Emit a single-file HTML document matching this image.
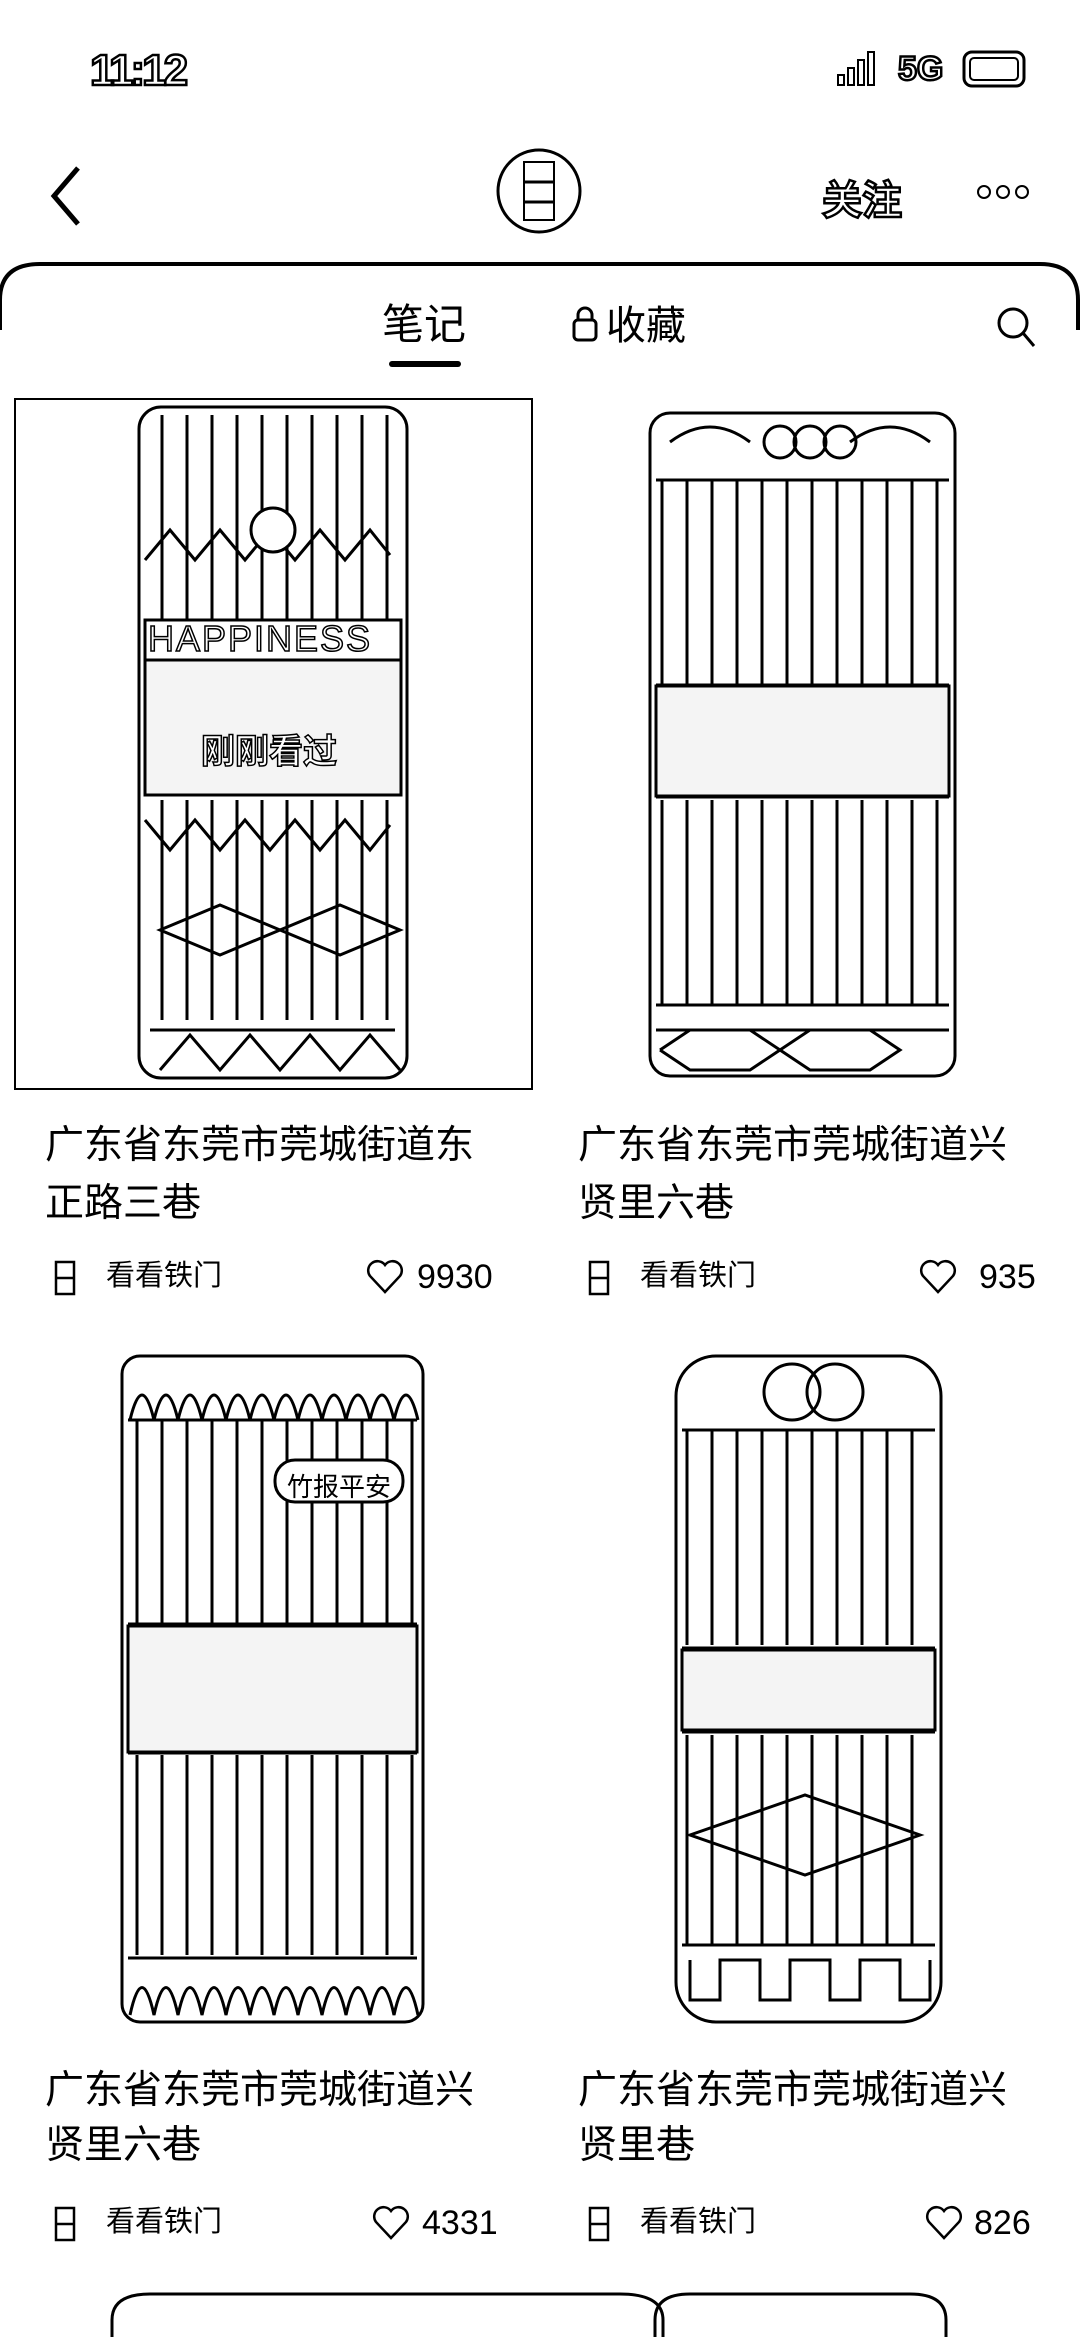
<!DOCTYPE html>
<html><head><meta charset="utf-8">
<style>
*{margin:0;padding:0;box-sizing:border-box}
html,body{width:1080px;height:2337px;background:#fff;overflow:hidden;position:relative;font-family:"Liberation Sans","Noto Sans CJK SC",sans-serif;color:#000}
.a{position:absolute;white-space:nowrap}
.t{font-size:39px;line-height:39px}
.m{font-size:29px;line-height:29px}
.n{font-size:34px;line-height:34px}
</style></head><body>
<div class="a" style="left:90px;top:46px;font-size:44px;font-weight:bold;color:#fff;-webkit-text-stroke:2.5px #000;letter-spacing:-3px">11:12</div>
<div class="a" style="left:898px;top:50px;font-size:34px;font-weight:bold;color:#fff;-webkit-text-stroke:2.5px #000">5G</div>
<svg class="a" style="left:0;top:0" width="1080" height="2337">
<g stroke="#000" stroke-width="2" fill="#fff">
<rect x="838" y="75" width="6" height="10"/><rect x="848" y="68" width="6" height="17"/><rect x="858" y="60" width="6" height="25"/><rect x="868" y="52" width="6" height="33"/>
<rect x="964" y="52" width="60" height="34" rx="8" stroke-width="3"/><rect x="970" y="58" width="48" height="22" rx="4"/>
</g>
<path d="M78 168 L54 196 L78 224" fill="none" stroke="#000" stroke-width="5"/>
<circle cx="539" cy="191" r="41" fill="#fff" stroke="#000" stroke-width="3"/>
<rect x="524" y="162" width="30" height="58" fill="#fff" stroke="#000" stroke-width="2"/>
<line x1="524" y1="182" x2="554" y2="182" stroke="#000" stroke-width="3"/><line x1="524" y1="202" x2="554" y2="202" stroke="#000" stroke-width="3"/>
<g fill="#fff" stroke="#000" stroke-width="2"><circle cx="984" cy="192" r="6"/><circle cx="1003" cy="192" r="6"/><circle cx="1022" cy="192" r="6"/></g>
<path d="M0 330 L0 300 Q0 264 40 264 L1040 264 Q1078 264 1078 300 L1078 330" fill="none" stroke="#000" stroke-width="4"/>
<rect x="389" y="361" width="72" height="6" rx="3" fill="#000"/>
<rect x="574" y="320" width="22" height="20" rx="4" fill="none" stroke="#000" stroke-width="3"/><path d="M578 320 v-5 a7 7 0 0 1 14 0 v5" fill="none" stroke="#000" stroke-width="3"/>
<circle cx="1013" cy="323" r="14" fill="none" stroke="#000" stroke-width="3"/><line x1="1023" y1="333" x2="1034" y2="346" stroke="#000" stroke-width="3"/>
<defs>
<pattern id="bars" width="25" height="10" patternUnits="userSpaceOnUse"><line x1="12" y1="0" x2="12" y2="10" stroke="#000" stroke-width="3"/></pattern>
</defs>
<rect x="15" y="399" width="517" height="690" fill="none" stroke="#000" stroke-width="2"/>
<g fill="none" stroke="#000" stroke-width="3">
<rect x="139" y="407" width="268" height="671" rx="22"/>
<rect x="145" y="415" width="256" height="240" fill="url(#bars)" stroke="none"/>
<rect x="145" y="800" width="256" height="220" fill="url(#bars)" stroke="none"/>
<path d="M145 560 l25 -30 l25 30 l25 -30 l25 30 l25 -30 l25 30 l25 -30 l25 30 l25 -30 l20 25"/>
<path d="M145 820 l25 30 l25 -30 l25 30 l25 -30 l25 30 l25 -30 l25 30 l25 -30 l25 30 l20 -25"/>
<path d="M160 930 l60 -25 l60 25 l60 -25 l60 25 l-60 25 l-60 -25 l-60 25z"/>
<rect x="145" y="620" width="256" height="40" fill="#fff"/>
<rect x="145" y="660" width="256" height="135" fill="#f4f4f4"/>
<path d="M150 1030 L395 1030 M160 1070 l30 -35 l30 35 l30 -35 l30 35 l30 -35 l30 35 l30 -35 l30 35"/>
<circle cx="273" cy="530" r="22" fill="#fff"/>
<rect x="650" y="413" width="305" height="663" rx="20"/>
<rect x="656" y="480" width="293" height="205" fill="url(#bars)" stroke="none"/>
<rect x="656" y="800" width="293" height="205" fill="url(#bars)" stroke="none"/>
<path d="M656 480 H949 M656 685 H949 M656 797 H949 M656 1005 H949 M656 1030 H949"/>
<path d="M670 442 q40 -30 80 0 M850 442 q40 -30 80 0"/>
<circle cx="780" cy="442" r="16"/><circle cx="810" cy="442" r="16"/><circle cx="840" cy="442" r="16"/>
<path d="M660 1050 l30 -20 h60 l30 20 l30 -20 h60 l30 20 l-30 20 h-60 l-30 -20 M660 1050 l30 20 h60 l30 -20"/>
<rect x="656" y="686" width="293" height="110" fill="#f4f4f4"/>
<rect x="122" y="1356" width="301" height="666" rx="18"/>
<rect x="128" y="1420" width="289" height="205" fill="url(#bars)" stroke="none"/>
<rect x="128" y="1755" width="289" height="200" fill="url(#bars)" stroke="none"/>
<path d="M128 1420 H417 M128 1624 H417 M128 1753 H417 M128 1958 H417"/>
<path d="M130 1420 q12 -50 24 0 q12 -50 24 0 q12 -50 24 0 q12 -50 24 0 q12 -50 24 0 q12 -50 24 0 q12 -50 24 0 q12 -50 24 0 q12 -50 24 0 q12 -50 24 0 q12 -50 24 0 q12 -50 24 0"/>
<path d="M130 2015 q12 -55 24 0 q12 -55 24 0 q12 -55 24 0 q12 -55 24 0 q12 -55 24 0 q12 -55 24 0 q12 -55 24 0 q12 -55 24 0 q12 -55 24 0 q12 -55 24 0 q12 -55 24 0 q12 -55 24 0"/>
<rect x="275" y="1460" width="128" height="42" rx="20" fill="#fff"/>
<rect x="128" y="1626" width="289" height="126" fill="#f4f4f4"/>
<rect x="676" y="1356" width="265" height="666" rx="40"/>
<rect x="682" y="1430" width="253" height="215" fill="url(#bars)" stroke="none"/>
<rect x="682" y="1735" width="253" height="210" fill="url(#bars)" stroke="none"/>
<path d="M682 1430 H935 M682 1648 H935 M682 1732 H935 M682 1945 H935"/>
<circle cx="792" cy="1392" r="28"/><circle cx="835" cy="1392" r="28"/>
<path d="M690 1835 l115 -40 l115 40 l-115 40z"/>
<path d="M690 1960 v40 h30 v-40 h40 v40 h30 v-40 h40 v40 h30 v-40 h40 v40 h30 v-40"/>
<rect x="682" y="1650" width="253" height="80" fill="#f4f4f4"/>
<path d="M112 2337 V2320 Q112 2294 150 2294 H620 Q663 2294 663 2320 V2337"/>
<path d="M655 2337 V2320 Q655 2294 690 2294 H910 Q946 2294 946 2320 V2337"/>
</g>
</svg>
<div class="a" style="left:201px;top:724px;font-size:34px;font-weight:bold;color:#fff;-webkit-text-stroke:1.5px #000">刚刚看过</div>
<div class="a" style="left:148px;top:618px;font-size:36px;color:#fff;-webkit-text-stroke:1.5px #000;letter-spacing:2px">HAPPINESS</div>
<div class="a" style="left:287px;top:1467px;font-size:26px">竹报平安</div>
<div class="a" style="left:822px;top:168px;font-size:40px;font-weight:bold;color:#fff;-webkit-text-stroke:2.5px #000">关注</div>
<div class="a" style="left:382px;top:304px;font-size:42px;line-height:42px">笔记</div>
<div class="a" style="left:606px;top:306px;font-size:40px;line-height:40px">收藏</div>

<div class="a t" style="left:45px;top:1126px">广东省东莞市莞城街道东</div>
<div class="a t" style="left:45px;top:1184px">正路三巷</div>
<div class="a t" style="left:578px;top:1126px">广东省东莞市莞城街道兴</div>
<div class="a t" style="left:578px;top:1184px">贤里六巷</div>
<div class="a t" style="left:45px;top:2071px">广东省东莞市莞城街道兴</div>
<div class="a t" style="left:45px;top:2126px">贤里六巷</div>
<div class="a t" style="left:578px;top:2071px">广东省东莞市莞城街道兴</div>
<div class="a t" style="left:578px;top:2126px">贤里巷</div>

<svg class="a" style="left:0;top:0;pointer-events:none" width="1080" height="2337">
<g fill="none" stroke="#000" stroke-width="2.5">
<rect x="56" y="1262" width="18" height="32"/><line x1="56" y1="1278" x2="74" y2="1278"/>
<rect x="590" y="1262" width="18" height="32"/><line x1="590" y1="1278" x2="608" y2="1278"/>
<rect x="56" y="2208" width="18" height="32"/><line x1="56" y1="2224" x2="74" y2="2224"/>
<rect x="590" y="2208" width="18" height="32"/><line x1="590" y1="2224" x2="608" y2="2224"/>
<path d="M385 1292 L370 1276 a9 9 0 0 1 15 -11 a9 9 0 0 1 15 11z"/>
<path d="M938 1292 L923 1276 a9 9 0 0 1 15 -11 a9 9 0 0 1 15 11z"/>
<path d="M391 2238 L376 2222 a9 9 0 0 1 15 -11 a9 9 0 0 1 15 11z"/>
<path d="M944 2238 L929 2222 a9 9 0 0 1 15 -11 a9 9 0 0 1 15 11z"/>
</g></svg>
<div class="a m" style="left:106px;top:1262px">看看铁门</div>
<div class="a m" style="left:640px;top:1262px">看看铁门</div>
<div class="a m" style="left:106px;top:2208px">看看铁门</div>
<div class="a m" style="left:640px;top:2208px">看看铁门</div>
<div class="a n" style="left:417px;top:1260px">9930</div>
<div class="a n" style="left:979px;top:1260px">935</div>
<div class="a n" style="left:422px;top:2206px">4331</div>
<div class="a n" style="left:974px;top:2206px">826</div>
</body></html>
